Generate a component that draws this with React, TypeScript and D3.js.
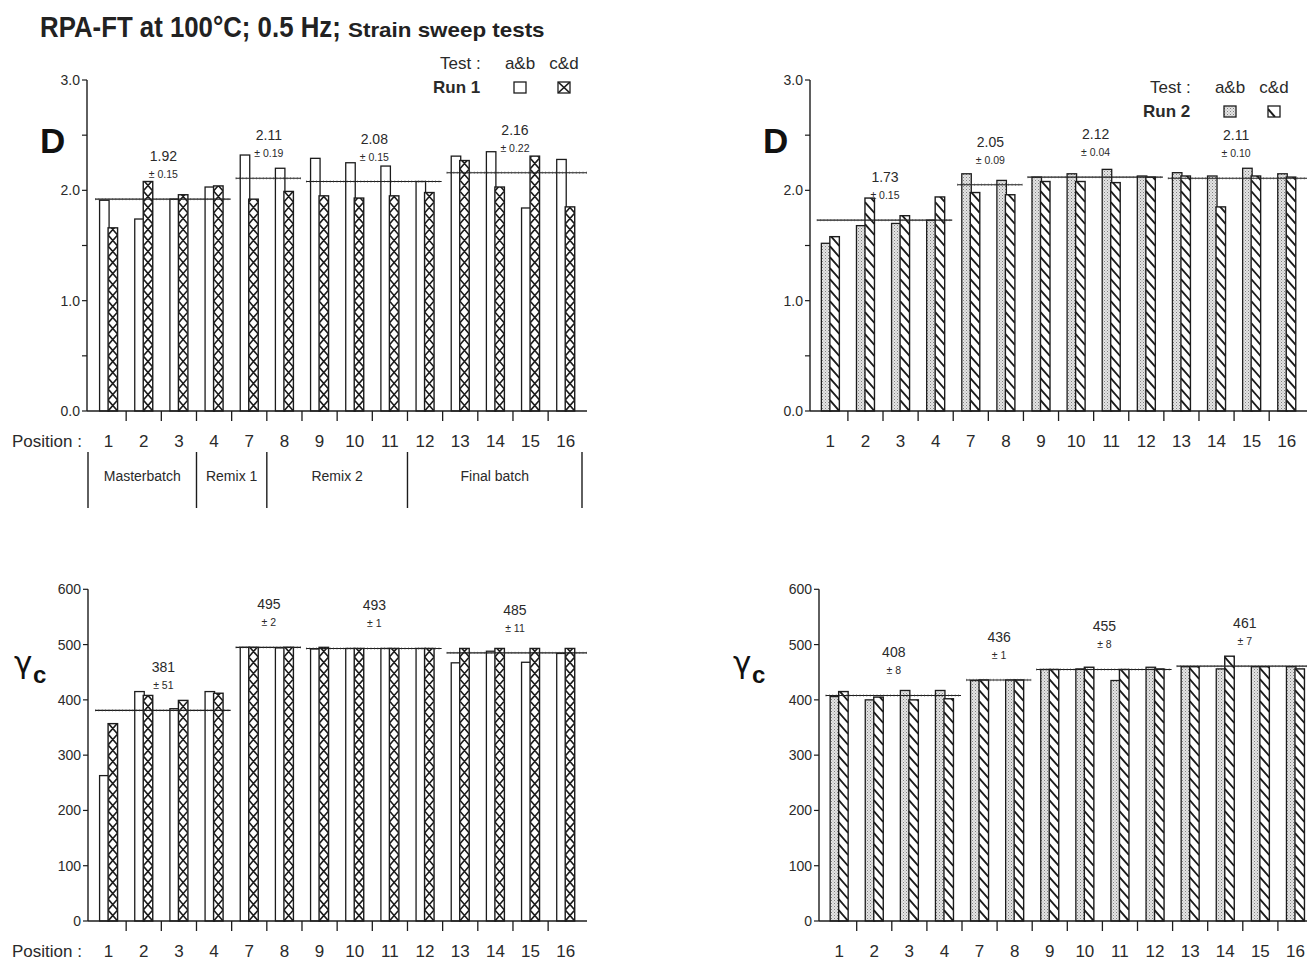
import React from 'react';
import * as d3 from 'd3';

// ---------- data ----------
const POSITIONS = ['1', '2', '3', '4', '7', '8', '9', '10', '11', '12', '13', '14', '15', '16'];
const MEAN_GROUPS: [number, number][] = [[0, 3], [4, 5], [6, 9], [10, 13]];
const BATCH_NAMES = ['Masterbatch', 'Remix 1', 'Remix 2', 'Final batch'];

const D_RUN1_AB = [1.91, 1.74, 1.92, 2.03, 2.32, 2.2, 2.29, 2.25, 2.22, 2.08, 2.31, 2.35, 1.84, 2.28];
const D_RUN1_CD = [1.66, 2.08, 1.96, 2.04, 1.92, 1.99, 1.95, 1.93, 1.95, 1.98, 2.27, 2.03, 2.31, 1.85];
const D_RUN1_MEAN = [1.92, 2.11, 2.08, 2.16];
const D_RUN1_SD = ['0.15', '0.19', '0.15', '0.22'];

const D_RUN2_AB = [1.52, 1.68, 1.7, 1.73, 2.15, 2.09, 2.12, 2.15, 2.19, 2.13, 2.16, 2.13, 2.2, 2.15];
const D_RUN2_CD = [1.58, 1.93, 1.77, 1.94, 1.98, 1.96, 2.08, 2.08, 2.07, 2.12, 2.13, 1.85, 2.13, 2.12];
const D_RUN2_MEAN = [1.73, 2.05, 2.12, 2.11];
const D_RUN2_SD = ['0.15', '0.09', '0.04', '0.10'];

const G_RUN1_AB = [263, 415, 384, 415, 495, 494, 492, 493, 493, 493, 467, 488, 468, 484];
const G_RUN1_CD = [357, 408, 399, 412, 495, 495, 495, 493, 493, 493, 493, 493, 493, 493];
const G_RUN1_MEAN = [381, 495, 493, 485];
const G_RUN1_SD = ['51', '2', '1', '11'];

const G_RUN2_AB = [406, 400, 417, 417, 435, 436, 455, 456, 435, 459, 460, 456, 460, 460];
const G_RUN2_CD = [415, 405, 400, 402, 436, 436, 455, 459, 455, 456, 460, 479, 460, 456];
const G_RUN2_MEAN = [408, 436, 455, 461];
const G_RUN2_SD = ['8', '1', '8', '7'];

const D_TICKS = [0, 0.5, 1, 1.5, 2, 2.5, 3];
const D_TICK_LABELS = [0, 1, 2, 3];
const G_TICKS = [0, 100, 200, 300, 400, 500, 600];

// ---------- style ----------
const FONT = "'Liberation Sans', Arial, Helvetica, sans-serif";
const INK = '#1c1c1c';
const TXT = '#2a2a2a';

type PanelProps = {
  id: string;
  ab: number[];
  cd: number[];
  means: number[];
  sds: string[];
  yMax: number;
  ticks: number[];
  tickLabels: number[];
  tickFmt: (v: number) => string;
  meanFmt: (v: number) => string;
  axisX: number;
  bandX0: number;
  bandX1: number;
  axisEnd: number;
  y0: number;
  yTop: number;
  run2: boolean;
};

function Panel(p: PanelProps) {
  const x = d3.scaleBand<string>().domain(POSITIONS).range([p.bandX0, p.bandX1]).padding(0);
  const y = d3.scaleLinear().domain([0, p.yMax]).range([p.y0, p.yTop]);
  const step = x.step();
  const cx = (i: number) => (x(POSITIONS[i]) as number) + step / 2;
  const bw = 9.5;
  const period = 11;

  const bars = POSITIONS.map((pos, i) => {
    const c = cx(i);
    const abX = c - 9;
    const cdX = c - 0.5;
    const abTop = y(p.ab[i]);
    const cdTop = y(p.cd[i]);
    const clipId = `${p.id}-clip-${i}`;
    const hatch: string[] = [];
    const h = p.y0 - cdTop;
    if (!p.run2) {
      for (let k = 0; k * period < h + period; k++) {
        const yA = p.y0 - k * period;
        const yB = yA - period;
        hatch.push(`M${cdX},${yA}L${cdX + bw},${yB}`);
        hatch.push(`M${cdX + bw},${yA}L${cdX},${yB}`);
      }
    } else {
      const dy = bw * 1.15;
      for (let k = -1; k * period < h + dy; k++) {
        const yA = p.y0 - k * period;
        hatch.push(`M${cdX},${yA - dy}L${cdX + bw},${yA}`);
      }
    }
    return (
      <g key={pos}>
        <rect x={abX} y={abTop} width={bw} height={p.y0 - abTop}
          fill={p.run2 ? `url(#stipple)` : '#fff'} stroke={INK} strokeWidth={1.3} />
        <clipPath id={clipId}>
          <rect x={cdX} y={cdTop} width={bw} height={h} />
        </clipPath>
        <rect x={cdX} y={cdTop} width={bw} height={h} fill="#fff" />
        <path d={hatch.join('')} clipPath={`url(#${clipId})`} stroke={INK}
          strokeWidth={p.run2 ? 1.9 : 1.6} fill="none" />
        <rect x={cdX} y={cdTop} width={bw} height={h} fill="none" stroke={INK} strokeWidth={1.4} />
      </g>
    );
  });

  const meanMarks = MEAN_GROUPS.map(([a, b], gi) => {
    const gx0 = (x(POSITIONS[a]) as number) + 4;
    const gx1 = b === POSITIONS.length - 1 ? p.axisEnd : (x(POSITIONS[b]) as number) + step - 1;
    const gc = ((x(POSITIONS[a]) as number) + (x(POSITIONS[b]) as number) + step) / 2 + 2;
    const my = y(p.means[gi]);
    return (
      <g key={gi}>
        <line x1={gx0} x2={gx1} y1={my} y2={my} stroke={INK} strokeWidth={1.1} />
        <line x1={gx0} x2={gx1} y1={my} y2={my} stroke="#444" strokeWidth={2.4}
          strokeDasharray="0.8 2.6" opacity={0.55} />
        <text x={gc} y={my - 38} textAnchor="middle" fontSize={14} fill={TXT}>
          {p.meanFmt(p.means[gi])}
        </text>
        <text x={gc} y={my - 21} textAnchor="middle" fontSize={10.5} fill={TXT}>
          {`± ${p.sds[gi]}`}
        </text>
      </g>
    );
  });

  return (
    <g fontFamily={FONT}>
      {bars}
      {meanMarks}
      {/* y axis */}
      <line x1={p.axisX} x2={p.axisX} y1={p.y0} y2={p.yTop} stroke={INK} strokeWidth={1.4} />
      {p.ticks.map((t) => (
        <line key={`t${t}`} x1={p.axisX - 5} x2={p.axisX} y1={y(t)} y2={y(t)} stroke={INK} strokeWidth={1.2} />
      ))}
      {p.tickLabels.map((t) => (
        <text key={`l${t}`} x={p.axisX - 7} y={y(t) + 5} textAnchor="end" fontSize={14} fill={TXT}>
          {p.tickFmt(t)}
        </text>
      ))}
      {/* x axis */}
      <line x1={p.axisX} x2={p.axisEnd} y1={p.y0} y2={p.y0} stroke={INK} strokeWidth={1.4} />
      {POSITIONS.slice(1).map((pos) => (
        <line key={`xt${pos}`} x1={x(pos) as number} x2={x(pos) as number} y1={p.y0} y2={p.y0 + 10}
          stroke={INK} strokeWidth={1.3} />
      ))}
      {POSITIONS.map((pos, i) => (
        <text key={`xl${pos}`} x={cx(i)} y={p.y0 + 36} textAnchor="middle" fontSize={17} fill={TXT}>
          {pos}
        </text>
      ))}
    </g>
  );
}

function Legend({ x, y, run, run2 }: { x: number; y: number; run: string; run2: boolean }) {
  // x: left of "Test :", y: baseline of "Test :"
  const b1 = x + 80;
  const b2 = x + 124;
  const by = y + 13;
  const cid = `lg-${run.replace(' ', '')}`;
  return (
    <g fontFamily={FONT} fill={TXT}>
      <text x={x} y={y} fontSize={17}>Test :</text>
      <text x={b1} y={y} fontSize={17} textAnchor="middle">a&amp;b</text>
      <text x={b2} y={y} fontSize={17} textAnchor="middle">c&amp;d</text>
      <text x={x - 7} y={y + 24} fontSize={17} fontWeight="bold">{run}</text>
      <rect x={b1 - 6} y={by} width={12} height={11}
        fill={run2 ? 'url(#stipple)' : '#fff'} stroke={INK} strokeWidth={1.3} />
      <clipPath id={cid}><rect x={b2 - 6} y={by} width={12} height={11} /></clipPath>
      <rect x={b2 - 6} y={by} width={12} height={11} fill="#fff" />
      {run2 ? (
        <path d={`M${b2 - 6},${by + 3}L${b2 + 1},${by + 11}`} stroke={INK} strokeWidth={2}
          clipPath={`url(#${cid})`} />
      ) : (
        <path d={`M${b2 - 6},${by}L${b2 + 6},${by + 11}M${b2 + 6},${by}L${b2 - 6},${by + 11}`}
          stroke={INK} strokeWidth={1.6} clipPath={`url(#${cid})`} />
      )}
      <rect x={b2 - 6} y={by} width={12} height={11} fill="none" stroke={INK} strokeWidth={1.3} />
    </g>
  );
}

export default function App() {
  const f1 = d3.format('.1f');
  const f2 = d3.format('.2f');
  const fi = d3.format('d');
  const xTop = d3.scaleBand<string>().domain(POSITIONS).range([91, 583.3]).padding(0);
  const sep = [88, xTop(POSITIONS[3]) as number, xTop(POSITIONS[5]) as number, xTop(POSITIONS[9]) as number, 582];
  const gammaFont = "'DejaVu Sans', 'Liberation Sans', sans-serif";

  return (
    <svg width={1307} height={960} style={{ position: 'fixed', left: 0, top: 0, background: '#fff' }}>
      <defs>
        <pattern id="stipple" patternUnits="userSpaceOnUse" width={3} height={3}>
          <rect width={3} height={3} fill="#e4e4e4" />
          <rect x={0} y={0} width={1} height={1} fill="#808080" />
          <rect x={1.5} y={1.5} width={1} height={1} fill="#a0a0a0" />
        </pattern>
      </defs>
      <rect width={1307} height={960} fill="#fff" />

      {/* title */}
      <g fontFamily={FONT} fontWeight="bold" fill="#222">
        <text transform="translate(40,37) scale(0.86,1)" fontSize={30}>
          RPA-FT at 100°C; 0.5 Hz;
        </text>
        <text transform="translate(348,37) scale(1.12,1)" fontSize={20}>
          Strain sweep tests
        </text>
      </g>

      <Legend x={440} y={69} run="Run 1" run2={false} />
      <Legend x={1150} y={93} run="Run 2" run2={true} />

      {/* y-axis titles */}
      <g fontFamily={FONT} fill="#111">
        <text x={40} y={153} fontSize={35} fontWeight="bold">D</text>
        <text x={763} y={153} fontSize={35} fontWeight="bold">D</text>
      </g>
      <g fontFamily={gammaFont} fill="#111">
        <text x={14} y={673} fontSize={31}>γ</text>
        <text x={33} y={683} fontSize={24} fontWeight="bold" fontFamily={FONT}>c</text>
        <text x={733} y={673} fontSize={31}>γ</text>
        <text x={752} y={683} fontSize={24} fontWeight="bold" fontFamily={FONT}>c</text>
      </g>

      <Panel id="p1" ab={D_RUN1_AB} cd={D_RUN1_CD} means={D_RUN1_MEAN} sds={D_RUN1_SD}
        yMax={3} ticks={D_TICKS} tickLabels={D_TICK_LABELS} tickFmt={f1} meanFmt={f2}
        axisX={87} bandX0={91} bandX1={583.3} axisEnd={587} y0={411} yTop={80} run2={false} />
      <Panel id="p2" ab={D_RUN2_AB} cd={D_RUN2_CD} means={D_RUN2_MEAN} sds={D_RUN2_SD}
        yMax={3} ticks={D_TICKS} tickLabels={D_TICK_LABELS} tickFmt={f1} meanFmt={f2}
        axisX={810} bandX0={812.8} bandX1={1304.3} axisEnd={1307} y0={411} yTop={80} run2={true} />
      <Panel id="p3" ab={G_RUN1_AB} cd={G_RUN1_CD} means={G_RUN1_MEAN} sds={G_RUN1_SD}
        yMax={600} ticks={G_TICKS} tickLabels={G_TICKS} tickFmt={fi} meanFmt={fi}
        axisX={88} bandX0={91} bandX1={583.3} axisEnd={587} y0={921} yTop={589.3} run2={false} />
      <Panel id="p4" ab={G_RUN2_AB} cd={G_RUN2_CD} means={G_RUN2_MEAN} sds={G_RUN2_SD}
        yMax={600} ticks={G_TICKS} tickLabels={G_TICKS} tickFmt={fi} meanFmt={fi}
        axisX={819} bandX0={821.6} bandX1={1313} axisEnd={1307} y0={921} yTop={589.3} run2={true} />

      {/* position labels and batch groups */}
      <g fontFamily={FONT} fill={TXT}>
        <text x={12} y={447} fontSize={17}>Position :</text>
        <text x={12} y={957} fontSize={17}>Position :</text>
        {sep.map((sx, i) => (
          <line key={i} x1={sx} x2={sx} y1={452} y2={508} stroke={INK} strokeWidth={1.4} />
        ))}
        {BATCH_NAMES.map((name, i) => (
          <text key={name} x={(sep[i] + sep[i + 1]) / 2} y={481} fontSize={14} textAnchor="middle">
            {name}
          </text>
        ))}
      </g>
    </svg>
  );
}
